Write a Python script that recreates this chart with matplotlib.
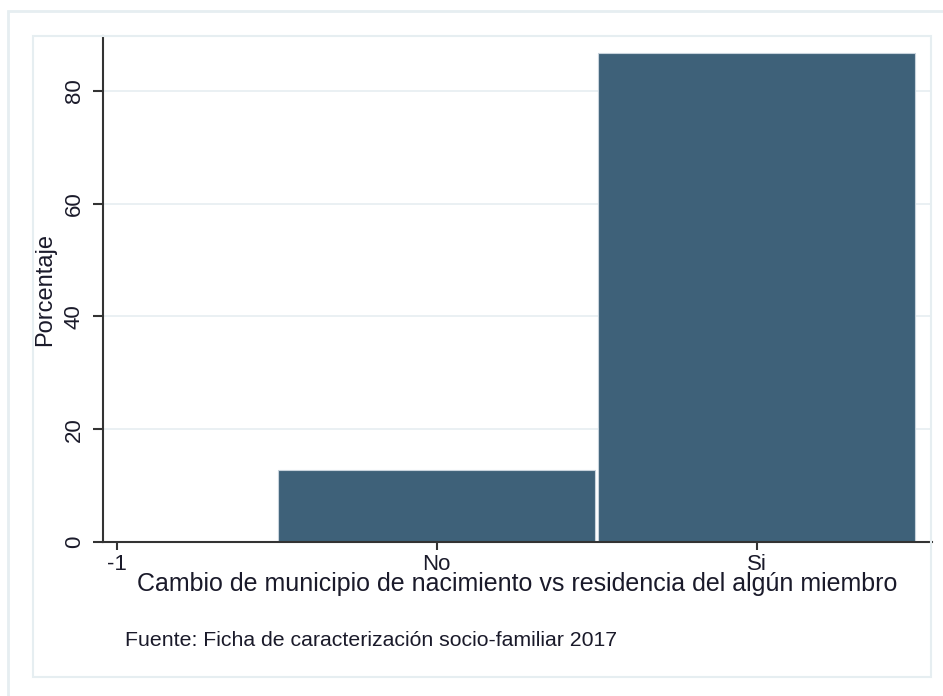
import matplotlib.pyplot as plt
from matplotlib.patches import Rectangle

# data (percentages)
categorias = [0, 1]
porcentaje = [12.7, 86.6]
xticks = [-1, 0, 1]
xtick_labels = ['-1', 'No', 'Si']
yticks = [0, 20, 40, 60, 80]

bar_color = '#3e6179'
frame_color = '#e6eef1'
text_color = '#1a1a2a'

plt.rcParams['font.family'] = ['Liberation Sans', 'DejaVu Sans']

fig = plt.figure(figsize=(9.43, 6.96), dpi=100)
fig.patch.set_facecolor('white')

W, H = 943, 696
# outer and inner frames (Stata style)
fig.add_artist(Rectangle((8 / W, -0.2), 1.2, 1.2 - 11 / H, transform=fig.transFigure,
                         fill=False, edgecolor=frame_color, lw=2))
fig.add_artist(Rectangle((33 / W, 1 - 677 / H), (931 - 33) / W, (677 - 36) / H,
                         transform=fig.transFigure, fill=False,
                         edgecolor=frame_color, lw=1.5))

ax = fig.add_axes([103 / W, 1 - 542 / H, (932 - 103) / W, (542 - 36) / H])
ax.bar(categorias, porcentaje, width=0.99, color=bar_color,
       edgecolor='#c8d3dc', linewidth=0.8, zorder=2)

ax.set_xlim(-1.043, 1.548)
ax.set_ylim(0, 89.7)

ax.set_yticks(yticks)
ax.set_yticklabels([str(v) for v in yticks], rotation=90, va='center',
                   fontsize=16, color=text_color)
ax.set_xticks(xticks)
ax.set_xticklabels(xtick_labels, fontsize=16, color=text_color)
ax.tick_params(axis='x', length=6, width=1.5, color='#333333', pad=3)
ax.tick_params(axis='y', length=7, width=1.5, color='#333333', pad=6)

for v in yticks[1:]:
    ax.axhline(v, color=frame_color, lw=1.2, zorder=0)

for s in ['top', 'right']:
    ax.spines[s].set_visible(False)
for s in ['left', 'bottom']:
    ax.spines[s].set_linewidth(1.5)
    ax.spines[s].set_color('#333333')

ax.set_xlabel('Cambio de municipio de nacimiento vs residencia del algún miembro',
              fontsize=18, color=text_color)
ax.xaxis.set_label_coords(0.5, -0.083)
ax.xaxis.label.set_va('center')
ax.set_ylabel('Porcentaje', fontsize=17, color=text_color)
ax.yaxis.set_label_coords(-0.07, 0.5)
ax.yaxis.label.set_va('center')

fig.text(125 / W, 1 - 641 / H, 'Fuente: Ficha de caracterización socio-familiar 2017',
         fontsize=15.3, va='center', ha='left', color=text_color)

plt.savefig('out.png', dpi=100)
